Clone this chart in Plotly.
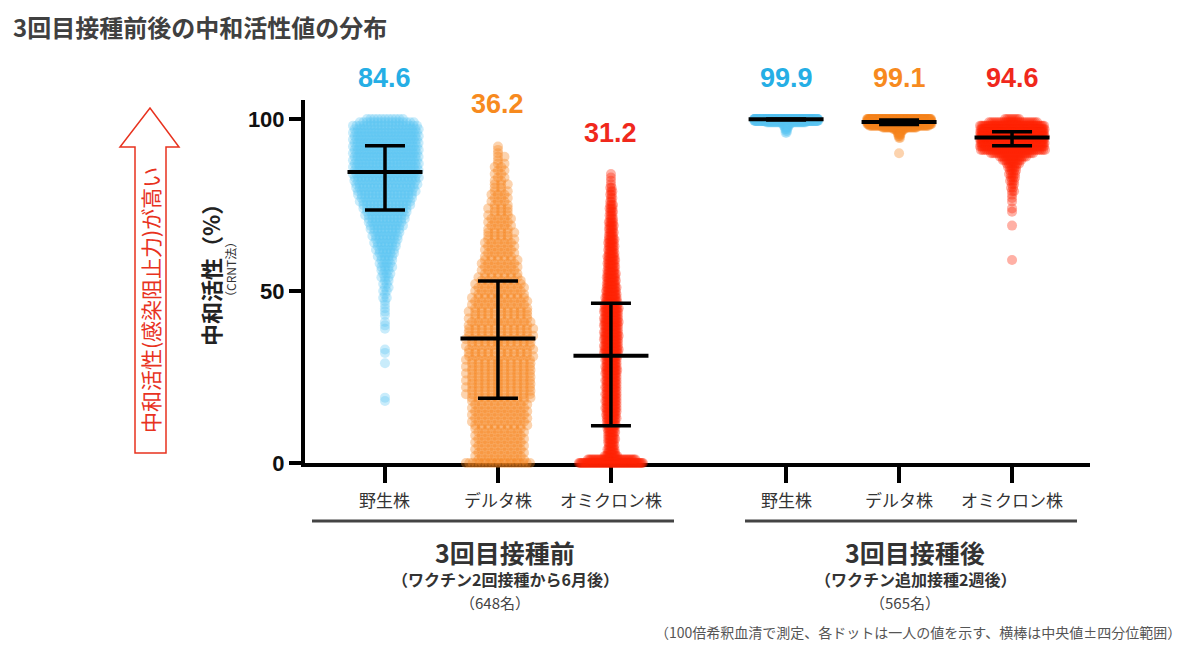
import plotly.graph_objects as go

# ---------------- data ----------------
categories = ["野生株", "デルタ株", "オミクロン株", "野生株", "デルタ株", "オミクロン株"]
positions = [0, 1, 2, 3.55, 4.55, 5.55]
medians = [84.6, 36.2, 31.2, 99.9, 99.1, 94.6]
q1 = [73.5, 18.8, 10.8, 99.7, 98.4, 92.2]
q3 = [92.2, 52.9, 46.4, 100.0, 99.7, 96.3]
median_labels = ["84.6", "36.2", "31.2", "99.9", "99.1", "94.6"]

# distributions: value levels and number of dots at each level
wild_pre_levels = list(range(100, 49, -1)) + [49, 48, 47, 46, 45, 44, 43, 41, 40, 39, 33, 32, 29, 19, 18]
wild_pre_counts = [11, 16, 19, 20, 21, 20, 20, 21, 20, 20,
                   20, 21, 20, 19, 20, 20, 19, 19, 18, 18,
                   17, 17, 16, 15, 15, 14, 13, 12, 12, 11,
                   10, 10, 9, 8, 8, 7, 7, 6, 6, 5,
                   5, 4, 4, 4, 3, 3, 3, 2, 2, 2, 2,
                   1, 2, 1, 1, 1, 1, 1, 1, 1, 1, 1, 1, 1, 1, 1]

delta_pre_levels = list(range(0, 93))
delta_pre_counts = [20,
                    8, 8, 8, 8, 8, 8, 8, 8, 8, 8,
                    9, 9, 9, 9, 9, 9, 9, 9,
                    10, 11, 10, 11, 10, 11, 10, 11, 10, 11, 10, 11,
                    11, 10, 11, 11, 10, 11, 11, 10, 11, 10,
                    10, 10, 9, 10, 9, 9, 9, 9, 8, 8, 8, 8,
                    7, 7, 6, 6, 6, 6, 6, 5,
                    5, 5, 5, 5, 5, 4, 5, 4, 4, 4,
                    4, 4, 3, 4, 3, 3, 3, 3, 3, 2,
                    3, 2, 2, 2, 2, 2, 2, 1, 2, 1, 1, 1]

omicron_pre_levels = list(range(0, 85))
omicron_pre_counts = [60, 35, 10,
                      6, 6, 5, 5, 6, 5, 6, 6, 7, 7,
                      8, 8, 8, 9, 8, 9, 8, 9, 8, 9, 8, 9, 8, 9, 9, 9, 8, 9, 9,
                      11, 11, 11, 10, 11, 11, 11, 10, 11, 11, 11, 10, 11, 11, 10,
                      9, 9, 8, 8, 8, 7, 7, 7, 7, 6, 6, 6, 6, 6, 5, 5, 5, 5, 5,
                      4, 4, 4, 4, 4, 3, 3, 3, 3, 3, 2, 2, 2, 2, 2, 1, 1, 1, 1]

wild_post_levels = [100, 99.5, 99, 98.5, 98, 97.5, 97, 96.5, 96]
wild_post_counts = [300, 200, 40, 8, 6, 4, 3, 2, 2]

delta_post_levels = [100, 99.5, 99, 98.5, 98, 97.5, 97, 96.5, 96, 95.5, 95, 94.5, 90]
delta_post_counts = [120, 120, 110, 90, 60, 35, 12, 6, 4, 3, 2, 2, 1]

omicron_post_levels = [100, 99, 98, 97, 96, 95, 94, 93, 92, 91, 90, 89, 88, 87, 86, 85,
                       84, 83, 82, 81, 80, 79, 78, 77, 76, 74, 73, 69, 59]
omicron_post_counts = [8, 25, 45, 60, 70, 72, 70, 60, 48, 35, 22, 14, 10, 7, 5, 4,
                       4, 3, 3, 2, 2, 2, 1, 1, 1, 1, 1, 1, 1]

# ---------------- layout geometry ----------------
OFF = 8  # page body margin of the html page
W, H = 1200 - OFF, 647 - OFF
L, T = 305 - OFF, 100 - OFF
PW, PH = 785, 363
R, B = W - L - PW, H - T - PH
X0, X1 = -0.708, 6.24
Y0, Y1 = 0, 105.5
PX_PER_X = PW / (X1 - X0)


def px(xp, yp):
    """screen pixel of the reference -> paper coordinates"""
    return (xp - OFF - L) / PW, (T + PH - (yp - OFF)) / PH


def swarm(levels, counts, center, s_px, cap_px=64):
    xs, ys = [], []
    for k, (v, n) in enumerate(zip(levels, counts)):
        s = min(s_px, cap_px / max(n - 1, 1))
        shift = (k % 2) * s / 2 if n > 1 else 0
        for i in range(n):
            off = (i - (n - 1) / 2) * s + shift
            xs.append(center + off / PX_PER_X)
            ys.append(v)
    return xs, ys


groups = [
    (wild_pre_levels, wild_pre_counts, 3.6, "rgba(90,198,242,0.33)"),
    (delta_pre_levels, delta_pre_counts, 6.5, "rgba(246,134,31,0.36)"),
    (omicron_pre_levels, omicron_pre_counts, 1.4, "rgba(255,35,5,0.36)"),
    (wild_post_levels, wild_post_counts, 1.0, "rgba(90,198,242,0.33)"),
    (delta_post_levels, delta_post_counts, 1.0, "rgba(246,134,31,0.36)"),
    (omicron_post_levels, omicron_post_counts, 2.0, "rgba(255,35,5,0.36)"),
]
label_colors = ["#25AEE5", "#F78A1E", "#F0281C", "#25AEE5", "#F78A1E", "#F0281C"]

fig = go.Figure()

for pos, (lv, ct, s, col) in zip(positions, groups):
    xs, ys = swarm(lv, ct, pos, s)
    fig.add_trace(go.Scatter(x=xs, y=ys, mode="markers", cliponaxis=False,
                             marker=dict(size=10, color=col, line=dict(width=0)),
                             hoverinfo="skip", showlegend=False))

MED_HALF = 37.5 / PX_PER_X
CAP_HALF = 20 / PX_PER_X
for pos, m, lo, hi in zip(positions, medians, q1, q3):
    fig.add_trace(go.Scatter(x=[pos, pos], y=[lo, hi], mode="lines", cliponaxis=False,
                             line=dict(color="black", width=3.5), hoverinfo="skip", showlegend=False))
    for yv in (lo, hi):
        fig.add_trace(go.Scatter(x=[pos - CAP_HALF, pos + CAP_HALF], y=[yv, yv], mode="lines",
                                 cliponaxis=False, line=dict(color="black", width=3.5),
                                 hoverinfo="skip", showlegend=False))
    fig.add_trace(go.Scatter(x=[pos - MED_HALF, pos + MED_HALF], y=[m, m], mode="lines",
                             cliponaxis=False, line=dict(color="black", width=4),
                             hoverinfo="skip", showlegend=False))

annotations = []
JP = "Noto Sans CJK JP"

# median value labels
label_y = [78, 104, 133, 78, 78, 78]
for pos, txt, col, yp in zip(positions, median_labels, label_colors, label_y):
    annotations.append(dict(x=pos, xref="x", y=px(0, yp)[1], yref="paper", text=txt,
                            showarrow=False, xanchor="center", yanchor="middle",
                            font=dict(family="Liberation Sans, Arial", size=27, color=col, weight="bold")))

# category labels
for pos, txt in zip(positions, categories):
    annotations.append(dict(x=pos, xref="x", y=px(0, 499)[1], yref="paper", text=txt,
                            showarrow=False, xanchor="center", yanchor="middle",
                            font=dict(family=JP, size=17, color="#333333")))

# group titles
group_texts = [
    (505, "3回目接種前", "（ワクチン2回接種から6月後）", "（648名）"),
    (915, "3回目接種後", "（ワクチン追加接種2週後）", "（565名）"),
]
for xc, t1, t2, t3 in group_texts:
    xpap = px(xc, 0)[0]
    annotations.append(dict(x=xpap, xref="paper", y=px(0, 552)[1], yref="paper", text=t1,
                            showarrow=False, xanchor="center", yanchor="middle",
                            font=dict(family=JP, size=25, color="#333333", weight="bold")))
    annotations.append(dict(x=xpap, xref="paper", y=px(0, 579)[1], yref="paper", text=t2,
                            showarrow=False, xanchor="center", yanchor="middle",
                            font=dict(family=JP, size=16, color="#333333", weight="bold")))
    annotations.append(dict(x=px(xc - 10, 0)[0], xref="paper", y=px(0, 602)[1], yref="paper", text=t3,
                            showarrow=False, xanchor="center", yanchor="middle",
                            font=dict(family=JP, size=15, color="#444444")))

# title (anchored to the top edge of the figure so its box is not cut)
annotations.append(dict(x=px(12, 0)[0], xref="paper", y=px(0, OFF)[1], yref="paper",
                        text="3回目接種前後の中和活性値の分布", showarrow=False,
                        xanchor="left", yanchor="top", borderpad=0,
                        font=dict(family=JP, size=24, color="#404040", weight="bold")))

# footnote
annotations.append(dict(x=px(1183, 0)[0], xref="paper", y=px(0, 632)[1], yref="paper",
                        text="（100倍希釈血清で測定、各ドットは一人の値を示す、横棒は中央値±四分位範囲）",
                        showarrow=False, xanchor="right", yanchor="middle",
                        font=dict(family=JP, size=14, color="#555555")))

# y axis title
annotations.append(dict(x=px(210, 0)[0], xref="paper", y=px(0, 270)[1], yref="paper",
                        text="中和活性（%）", textangle=-90, showarrow=False,
                        xanchor="center", yanchor="middle",
                        font=dict(family=JP, size=22, color="#222222", weight="bold")))
annotations.append(dict(x=px(230, 0)[0], xref="paper", y=px(0, 270)[1], yref="paper",
                        text="（CRNT法）", textangle=-90, showarrow=False,
                        xanchor="center", yanchor="middle",
                        font=dict(family=JP, size=12, color="#333333")))

# arrow text
annotations.append(dict(x=px(150, 0)[0], xref="paper", y=px(0, 300)[1], yref="paper",
                        text="中和活性(感染阻止力)が高い", textangle=-90, showarrow=False,
                        xanchor="center", yanchor="middle",
                        font=dict(family=JP, size=21, color="#E8321E")))

shapes = []
# outlined arrow
arrow_pts = [(135, 453), (135, 147), (120, 147), (150, 108), (179, 147), (166, 147), (166, 453)]
path = "M " + " L ".join(f"{px(a, b)[0]:.5f},{px(a, b)[1]:.5f}" for a, b in arrow_pts) + " Z"
shapes.append(dict(type="path", path=path, xref="paper", yref="paper",
                   line=dict(color="#E8321E", width=1.5), fillcolor="rgba(0,0,0,0)"))

# group brackets
for xa, xb in [(312, 674), (745, 1077)]:
    pa, pb = px(xa, 521), px(xb, 521)
    shapes.append(dict(type="line", xref="paper", yref="paper", x0=pa[0], y0=pa[1], x1=pb[0], y1=pb[1],
                       line=dict(color="#444444", width=3)))

fig.update_layout(
    width=W, height=H,
    margin=dict(l=L, r=R, t=T, b=B, autoexpand=False),
    paper_bgcolor="white", plot_bgcolor="white",
    xaxis=dict(range=[X0, X1], showgrid=False, zeroline=False, showline=True, linecolor="black",
               linewidth=4, ticks="outside", tickvals=positions, ticklen=16, tickwidth=4,
               tickcolor="black", showticklabels=False, layer="below traces", fixedrange=True),
    yaxis=dict(range=[Y0, Y1], showgrid=False, zeroline=False, showline=True, linecolor="black",
               linewidth=4, ticks="outside", tickvals=[0, 50, 100], ticktext=["0", "50", "100"],
               ticklen=12, tickwidth=4, tickcolor="black", layer="below traces",
               tickfont=dict(family="Liberation Sans, Arial", size=22, color="#111111", weight="bold"),
               fixedrange=True),
    annotations=annotations,
    shapes=shapes,
    showlegend=False,
)

fig.write_html("out.html")
